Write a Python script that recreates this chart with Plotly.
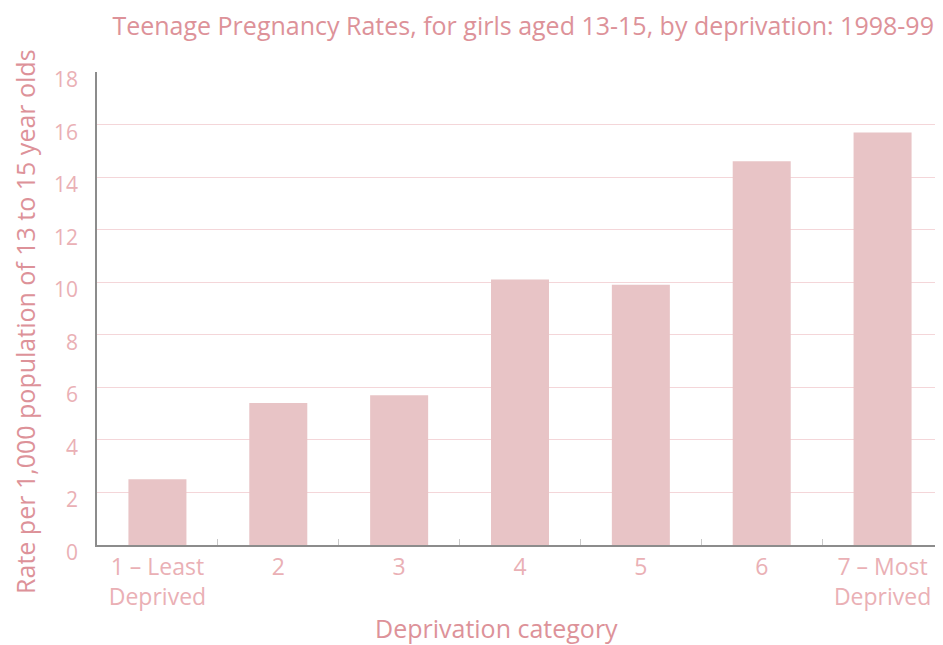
import plotly.graph_objects as go

categories = ["1 – Least<br>Deprived", "2", "3", "4", "5", "6", "7 – Most<br>Deprived"]
rates = [2.5, 5.4, 5.7, 10.1, 9.9, 14.6, 15.7]
y_ticks = [0, 2, 4, 6, 8, 10, 12, 14, 16, 18]

title_text = "Teenage Pregnancy Rates, for girls aged 13-15, by deprivation: 1998-99"
x_title = "Deprivation category"
y_title = "Rate per 1,000 population of 13 to 15 year olds"

pink_text = "#eab0b5"
title_pink = "#dd9299"
bar_color = "#e8c4c6"
grid_color = "#f4d6d9"
axis_grey = "#8c8c8c"
font_family = "'Open Sans', Lato, sans-serif"

fig = go.Figure()

fig.add_trace(go.Bar(
    x=categories,
    y=rates,
    marker=dict(color=bar_color, line=dict(width=0)),
    width=0.48,
    showlegend=False
))

# the page body keeps an 8px margin, so the figure is sized to fit inside it
fig.update_layout(
    width=935,
    height=637,
    margin=dict(l=89, r=0, t=64, b=100, autoexpand=False),
    paper_bgcolor="white",
    plot_bgcolor="white",
    font=dict(family=font_family, color=pink_text, size=20),
    title=dict(
        text=title_text,
        x=0.551, xanchor="center",
        y=0.972, yanchor="middle",
        font=dict(size=25, color=title_pink)
    ),
)

fig.update_xaxes(
    automargin=False,
    showline=True, linecolor=axis_grey, linewidth=2,
    ticks="inside", tickson="boundaries", ticklen=6, tickcolor="#c8c8c8", tickwidth=1,
    showgrid=False,
    tickfont=dict(size=23, color=pink_text),
    range=[-0.5, 6.5],
)

# y tick labels sit a little below their gridlines in the original
fig.update_yaxes(
    automargin=False,
    range=[0, 18],
    tickvals=y_ticks,
    showticklabels=False,
    showline=True, linecolor=axis_grey, linewidth=2,
    ticks="", showgrid=True, gridcolor=grid_color, gridwidth=1,
    zeroline=False,
)

for v in y_ticks:
    fig.add_annotation(
        x=-0.02, xref="paper", y=v, yref="y",
        text=str(v), showarrow=False,
        xanchor="right", yanchor="middle", yshift=-7,
        font=dict(size=21, color=pink_text)
    )

fig.add_annotation(
    x=-0.0852, xref="paper", y=0.4715, yref="paper",
    text=y_title, textangle=-90, showarrow=False,
    xanchor="center", yanchor="middle",
    font=dict(size=25, color=title_pink)
)

fig.add_annotation(
    x=0.4728, xref="paper", y=-0.175, yref="paper",
    text=x_title, showarrow=False,
    xanchor="center", yanchor="middle",
    font=dict(size=25, color=title_pink)
)

fig.write_html("out.html")
